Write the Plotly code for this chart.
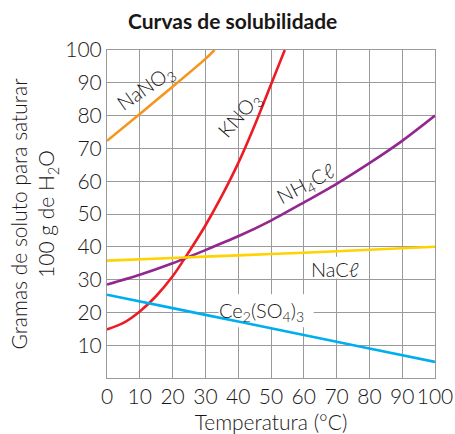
import plotly.graph_objects as go

# Data
nano3_x = [0, 10, 20, 30, 32.8]
nano3_y = [72.3, 80.5, 88.8, 97.3, 100]

kno3_x = [0, 5, 10, 15, 20, 25, 30, 35, 40, 45, 50, 54.2]
kno3_y = [14.8, 16.8, 20.3, 25, 31, 38.5, 46.5, 55.5, 65.5, 77, 89.5, 100]

nh4cl_x = [0, 10, 20, 30, 40, 50, 60, 70, 80, 90, 100]
nh4cl_y = [28.5, 31.5, 35, 39, 43.2, 48, 53.5, 59.2, 65.5, 72.3, 80]

nacl_x = [0, 20, 40, 60, 80, 100]
nacl_y = [35.8, 36.6, 37.4, 38.2, 39.1, 40]

ce_x = [0, 20, 40, 60, 80, 100]
ce_y = [25.4, 21.3, 17.2, 13.1, 9.0, 4.9]

tick_vals = [0, 10, 20, 30, 40, 50, 60, 70, 80, 90, 100]
y_tick_vals = [10, 20, 30, 40, 50, 60, 70, 80, 90, 100]

FONT = "Lato"
TXT = "#1a1717"
GRID = "#9a9a9a"

fig = go.Figure()
series = [
    (nano3_x, nano3_y, "#F7941D"),
    (kno3_x, kno3_y, "#ED1C24"),
    (nh4cl_x, nh4cl_y, "#92278F"),
    (nacl_x, nacl_y, "#FFD200"),
    (ce_x, ce_y, "#00AEEF"),
]
for xs, ys, c in series:
    fig.add_trace(go.Scatter(x=xs, y=ys, mode="lines",
                             line=dict(color=c, width=2.6, shape="spline", smoothing=0.8),
                             hoverinfo="skip", showlegend=False))

# rotated labels
rot_labels = [
    (11.6, 88.4, "NaNO<sub>3</sub>", -35),
    (40.4, 80.0, "KNO<sub>3</sub>", -49),
    (60.6, 59.0, "NH<sub>4</sub>Cℓ", -28),
]
for x, y, t, a in rot_labels:
    fig.add_annotation(x=x, y=y, text=t, textangle=a, showarrow=False,
                       font=dict(family=FONT, size=20, color=TXT, weight=300))

# horizontal labels: white patches between gridlines and traces
flat_labels = [
    (69.6, 33.3, "NaCℓ", (61.5, 78, 30.3, 37.0)),
    (47.0, 20.3, "Ce<sub>2</sub>(SO<sub>4</sub>)<sub>3</sub>", (34, 63, 15.5, 25.5)),
]
for x, y, t, box in flat_labels:
    fig.add_shape(type="rect", x0=box[0], x1=box[1], y0=box[2], y1=box[3],
                  fillcolor="white", line=dict(width=0), layer="between")
    fig.add_annotation(x=x, y=y, text=t, showarrow=False,
                       font=dict(family=FONT, size=20, color=TXT, weight=300))

fig.add_annotation(x=(232 - 107) / (435 - 107), y=1, xref="paper", yref="paper",
                   yanchor="middle", yshift=30,
                   text="<b>Curvas de solubilidade</b>", showarrow=False,
                   font=dict(family=FONT, size=21, color=TXT))

fig.update_xaxes(range=[0, 100], tickvals=tick_vals, showgrid=True, gridcolor=GRID,
                 gridwidth=1, showline=True, linecolor=GRID, mirror=True, zeroline=False,
                 ticks="", automargin=False,
                 tickfont=dict(family=FONT, size=21, color=TXT, weight=300),
                 title=dict(text="Temperatura (°C)",
                            font=dict(family=FONT, size=21, color=TXT, weight=300), standoff=8))
fig.update_yaxes(range=[0, 100], tickvals=y_tick_vals, showgrid=True, gridcolor=GRID,
                 gridwidth=1, showline=True, linecolor=GRID, mirror=True, zeroline=False,
                 ticks="", automargin=False,
                 tickfont=dict(family=FONT, size=21, color=TXT, weight=300),
                 title=dict(text="Gramas de soluto para saturar<br>100 g de H<sub>2</sub>O",
                            font=dict(family=FONT, size=21, color=TXT, weight=300), standoff=4))

fig.update_layout(width=455, height=434, margin=dict(l=107, r=20, t=50, b=56),
                  plot_bgcolor="white", paper_bgcolor="white")
fig.write_html("out.html")
